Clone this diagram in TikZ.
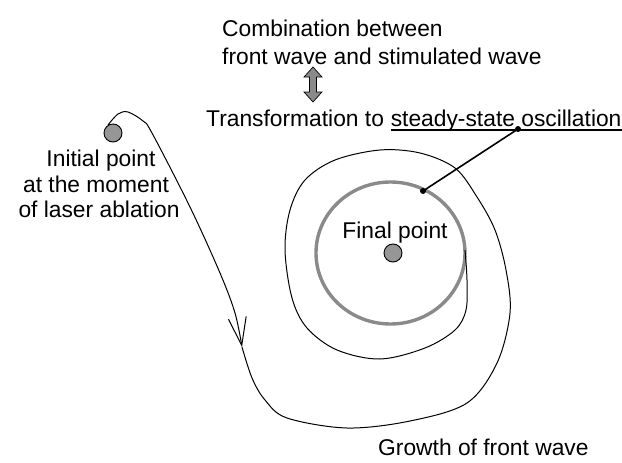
\documentclass[tikz,border=0pt]{standalone}
\usepackage{fontspec}
\setmainfont{Liberation Sans}
\usetikzlibrary{arrows.meta,calc}
\definecolor{ringgray}{RGB}{138,138,138}
\definecolor{dotgray}{RGB}{150,150,150}
\begin{document}
\begin{tikzpicture}[x=1pt,y=-1pt,
  lbl/.style={inner sep=0pt,font=\fontsize{22.8}{26}\selectfont},
  wave/.style={line width=1pt,black},
  pointdot/.style={circle,draw=black,line width=0.9pt,fill=dotgray,minimum size=18pt,inner sep=0pt},
  leaddot/.style={circle,fill=black,minimum size=6pt,inner sep=0pt}]
\useasboundingbox (0,0) rectangle (622,463);
% top texts
\node[lbl,anchor=base west] (c1) at (222,36) {Combination between};
\node[lbl,anchor=base west] (c2) at (222,64) {front wave and stimulated wave};
% double arrow
\draw[fill=ringgray,line width=0.7pt] (313,67) -- (322,77) -- (316.5,77) -- (316.5,92) -- (322,92) -- (313,102) -- (304,92) -- (309.5,92) -- (309.5,77) -- (304,77) -- cycle;
\node[lbl,anchor=base west] (t1) at (206,126) {Transformation to};
\node[lbl,anchor=base west] (t2) at ($(t1.base east)+(6.4,0)$) {steady-state oscillation};
\draw[line width=1.6pt] ($(t2.base west)+(0,4)$) -- ($(t2.base east)+(0,4)$);
% initial point
\node[pointdot] (ip) at (113,133) {};
\node[lbl,anchor=base] (i1) at (101,166) {Initial point};
\node[lbl,anchor=base] (i2) at (96,192) {at the moment};
\node[lbl,anchor=base] (i3) at (99,217) {of laser ablation};
% ring and final point
\draw[ringgray,line width=3.4pt] (390.5,253) ellipse [x radius=74.5,y radius=71];
\node[pointdot] (fp) at (393,253) {};
\node[lbl,anchor=base] (fl) at (395,238) {Final point};
% spiral
\draw[wave,-{Straight Barb[length=28pt,width=18pt,line width=1pt]}] plot[smooth,tension=0.55] coordinates {(108,125) (118,114) (128,112) (143,121) (152,133) (190,207) (220,273) (235,313) (242,347)};
\draw[wave] plot[smooth,tension=0.55] coordinates {(242,347) (252,378) (265,400) (287,418) (347,428) (410,421) (467,403) (497,363) (510,313) (506,270) (495,230) (477,197) (455,168) (420,153) (380,150) (335,160) (305,180) (290,210) (285,250) (292,298) (307,328) (337,350) (380,359) (425,348) (455,330) (466,310) (467,280) (465,250)};
% leader
\node[leaddot] (la) at (518,129) {};
\node[leaddot] (lb) at (423,191) {};
\draw[line width=1.6pt] (la.center) -- (lb.center);
% bottom text
\node[lbl,anchor=base west] (g) at (378,455) {Growth of front wave};
\end{tikzpicture}
\end{document}
